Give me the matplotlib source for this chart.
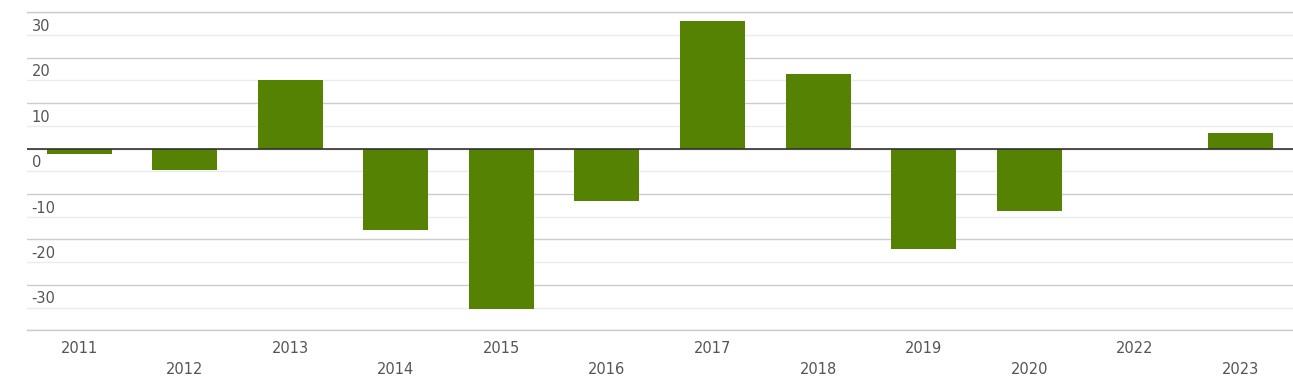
import numpy as np
import matplotlib.pyplot as plt

# 数据
years = ['2011', '2012', '2013', '2014', '2015', '2016',
         '2017', '2018', '2019', '2020', '2022', '2023']
values = [-1.2, -4.7, 15.1, -18.0, -35.2, -11.6,
          28.1, 16.4, -22.2, -13.8, 0.0, 3.4]
y_ticks = [-30, -20, -10, 0, 10, 20, 30]

bar_color = '#558203'
text_color = '#555555'

fig = plt.figure(figsize=(12.93, 3.84), dpi=100)
ax = fig.add_axes([0.0205, 0.1398, 0.9795, 0.8282])

x = np.arange(len(years))
ax.bar(x, values, width=0.616, color=bar_color, zorder=3)

ax.set_xlim(-0.5, 11.5)
ax.set_ylim(-40, 30)

# 网格线
ax.set_yticks(np.arange(-40, 31, 10))
ax.set_yticks(np.arange(-35, 30, 10), minor=True)
ax.grid(axis='y', which='major', color='#cccccc', linewidth=1, zorder=0)
ax.grid(axis='y', which='minor', color='#ebebeb', linewidth=1, zorder=0)
ax.axhline(-40, color='#cccccc', linewidth=1, zorder=1, clip_on=False)
ax.axhline(30, color='#cccccc', linewidth=1, zorder=1, clip_on=False)
ax.axhline(0, color='#333333', linewidth=1.2, zorder=4)
ax.tick_params(axis='y', which='both', length=0, labelleft=False)

for s in ax.spines.values():
    s.set_visible(False)

# y轴标签放在网格线下方
for v in y_ticks:
    ax.annotate(str(v), xy=(0, v), xycoords=ax.get_yaxis_transform(),
                xytext=(5, -14), textcoords='offset pixels',
                ha='left', va='center', fontsize=10.5, color=text_color)

# x轴标签交错排列
ax.set_xticks(x)
ax.set_xticklabels(years, fontsize=10.5, color=text_color)
ax.tick_params(axis='x', length=0)
for i, tick in enumerate(ax.xaxis.get_major_ticks()):
    tick.set_pad(7.5 if i % 2 == 0 else 22.5)

fig.savefig('out.png', dpi=100)
